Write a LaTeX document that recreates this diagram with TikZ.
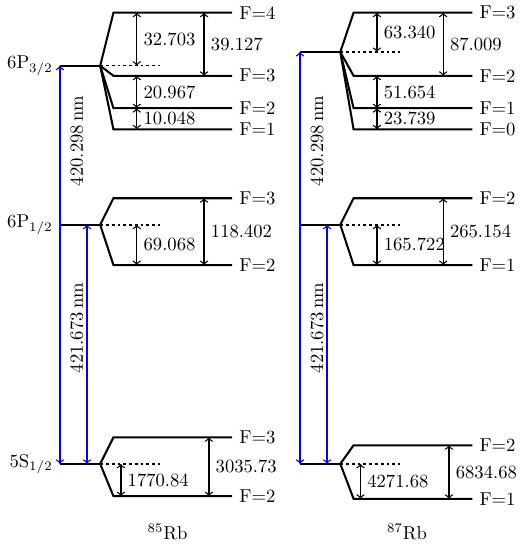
\documentclass[tikz,border=0pt]{standalone}
\begin{document}
\begin{tikzpicture}[level/.style={line width=1.1pt},
  centre/.style={line width=0.8pt,dash pattern=on 1.5pt off 1.6pt},
  split/.style={line width=0.7pt,<->},
  laser/.style={line width=0.7pt,blue,<->}]
\useasboundingbox (0,0) rectangle (9.91,10.30);

%% 85Rb
% 6P 3/2
\draw[level] (1.13,9.06) coordinate(a0) node[left](aP){6P$_{3/2}$} -- (1.89,9.06) coordinate(a1);
\draw[centre] (a1) -- (3.02,9.06);
\foreach \f/\y in {4/10.06,3/8.87,2/8.26,1/7.86}
	\draw[level] (a1) -- (2.14,\y) -- (4.38,\y) node[right](aF\f){F=\f};
\coordinate (ax1) at (2.58,0);
\coordinate (ax2) at (3.85,0);
\draw[split] (ax1 |- aF4) -- (ax1 |- a1) node[midway,right](ad1){32.703};
\draw[split] (ax2 |- aF4) -- (ax2 |- aF3) node[midway,right](ad2){39.127};
\draw[split] (ax1 |- aF3) -- (ax1 |- aF2) node[midway,right](ad3){20.967};
\draw[split] (ax1 |- aF2) -- (ax1 |- aF1) node[midway,right](ad4){10.048};

% 6P 1/2
\draw[level] (1.13,6.06) coordinate(b0) node[left](bP){6P$_{1/2}$} -- (1.89,6.06) coordinate(b1);
\draw[centre] (b1) -- (3.02,6.06);
\foreach \f/\y in {3/6.56,2/5.30}
	\draw[level] (b1) -- (2.14,\y) -- (4.38,\y) node[right](bF\f){F=\f};
\draw[split] (ax1 |- b1) -- (ax1 |- bF2) node[midway,right](bd1){69.068};
\draw[split] (ax2 |- bF3) -- (ax2 |- bF2) node[midway,right](bd2){118.402};

% 5S 1/2
\draw[level] (1.13,1.55) coordinate(c0) node[left](cS){5S$_{1/2}$} -- (1.89,1.55) coordinate(c1);
\draw[centre] (c1) -- (3.02,1.55);
\foreach \f/\y in {3/2.05,2/0.94}
	\draw[level] (c1) -- (2.14,\y) -- (4.38,\y) node[right](cF\f){F=\f};
\coordinate (cx1) at (2.28,0);
\coordinate (cx2) at (3.94,0);
\draw[split] (cx1 |- c1) -- (cx1 |- cF2) node[midway,right](cd1){1770.84};
\draw[split] (cx2 |- cF3) -- (cx2 |- cF2) node[midway,right](cd2){3035.73};

% lasers
\coordinate (lx) at (1.64,0);
\draw[laser] (c0) -- (a0);
\draw[laser] (lx |- c0) -- (lx |- b0);
\node[rotate=90] (al) at (1.45,7.64) {420.298\,nm};
\node[rotate=90] (bl) at (1.45,4.11) {421.673\,nm};
\node (rb85) at (3.16,0.27) {$^{85}$Rb};

%% 87Rb
% 6P 3/2
\draw[level] (5.66,9.32) coordinate(d0) -- (6.42,9.32) coordinate(d1);
\draw[centre] (d1) -- (7.55,9.32);
\foreach \f/\y in {3/10.06,2/8.87,1/8.26,0/7.86}
	\draw[level] (d1) -- (6.67,\y) -- (8.91,\y) node[right](dF\f){F=\f};
\coordinate (dx1) at (7.11,0);
\coordinate (dx2) at (8.36,0);
\draw[split] (dx1 |- dF3) -- (dx1 |- d1) node[midway,right](dd1){63.340};
\draw[split] (dx2 |- dF3) -- (dx2 |- dF2) node[midway,right](dd2){87.009};
\draw[split] (dx1 |- dF2) -- (dx1 |- dF1) node[midway,right](dd3){51.654};
\draw[split] (dx1 |- dF1) -- (dx1 |- dF0) node[midway,right](dd4){23.739};

% 6P 1/2
\draw[level] (5.66,6.06) coordinate(e0) -- (6.42,6.06) coordinate(e1);
\draw[centre] (e1) -- (7.55,6.06);
\foreach \f/\y in {2/6.56,1/5.30}
	\draw[level] (e1) -- (6.67,\y) -- (8.91,\y) node[right](eF\f){F=\f};
\draw[split] (dx1 |- e1) -- (dx1 |- eF1) node[midway,right](ed1){165.722};
\draw[split] (dx2 |- eF2) -- (dx2 |- eF1) node[midway,right](ed2){265.154};

% 5S 1/2
\draw[level] (5.66,1.55) coordinate(f0) -- (6.42,1.55) coordinate(f1);
\draw[centre] (f1) -- (7.55,1.55);
\foreach \f/\y in {2/1.90,1/0.89}
	\draw[level] (f1) -- (6.67,\y) -- (8.91,\y) node[right](fF\f){F=\f};
\coordinate (fx1) at (6.80,0);
\coordinate (fx2) at (8.47,0);
\draw[split] (fx1 |- f1) -- (fx1 |- fF1) node[midway,right](fd1){4271.68};
\draw[split] (fx2 |- fF2) -- (fx2 |- fF1) node[midway,right](fd2){6834.68};

% lasers
\coordinate (mx) at (6.17,0);
\draw[laser] (f0) -- (d0);
\draw[laser] (mx |- f0) -- (mx |- e0);
\node[rotate=90] (dl) at (5.98,7.64) {420.298\,nm};
\node[rotate=90] (el) at (5.98,4.11) {421.673\,nm};
\node (rb87) at (7.68,0.27) {$^{87}$Rb};

\end{tikzpicture}
\end{document}
